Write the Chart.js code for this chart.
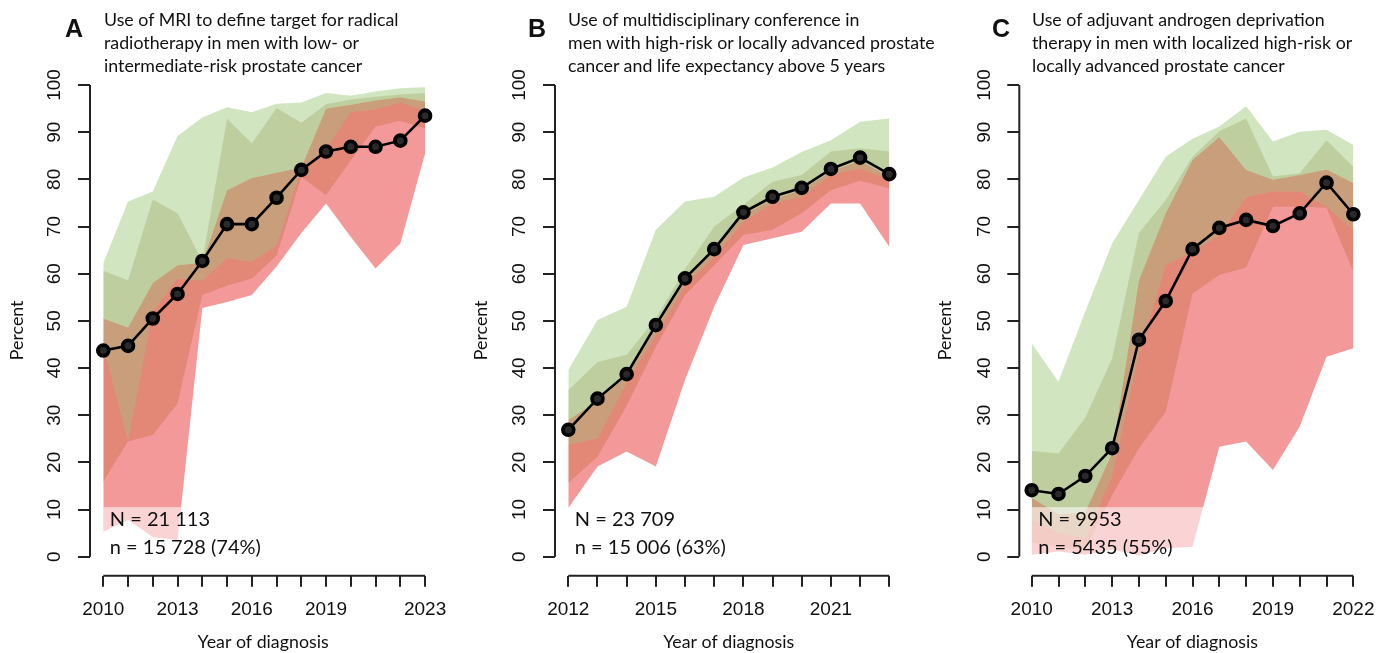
<!DOCTYPE html>
<html>
<head>
<meta charset="utf-8">
<script src="https://cdn.jsdelivr.net/npm/chart.js@4.4.1/dist/chart.umd.min.js"></script>
<style>
body { margin: 0; background: #fff; width: 1390px; height: 653px; overflow: hidden; position: relative; color: #111; }
canvas { position: absolute; top: 0; }
.ttl { position: absolute; top: 8px; font-family: Lato, sans-serif; font-size: 17.8px; line-height: 23px; white-space: nowrap; }
.let { position: absolute; top: 16px; font: bold 25px/24px 'Liberation Sans', Arial, sans-serif; }
</style>
</head>
<body>
<canvas id="cA" width="463" height="653" style="left:0px"></canvas>
<canvas id="cB" width="463" height="653" style="left:463px"></canvas>
<canvas id="cC" width="464" height="653" style="left:926px"></canvas>

<div class="let" style="left:65px">A</div>
<div class="ttl" style="left:104px">Use of MRI to define target for radical<br>radiotherapy in men with low- or<br>intermediate-risk prostate cancer</div>
<div class="let" style="left:528px">B</div>
<div class="ttl" style="left:568px">Use of multidisciplinary conference in<br>men with high-risk or locally advanced prostate<br>cancer and life expectancy above 5 years</div>
<div class="let" style="left:992px">C</div>
<div class="ttl" style="left:1032px">Use of adjuvant androgen deprivation<br>therapy in men with localized high-risk or<br>locally advanced prostate cancer</div>

<script>
var yTicks = [0, 10, 20, 30, 40, 50, 60, 70, 80, 90, 100];

// panel A
var yearsA = [2010, 2011, 2012, 2013, 2014, 2015, 2016, 2017, 2018, 2019, 2020, 2021, 2022, 2023];
var xLabelsA = [2010, 2013, 2016, 2019, 2023];
var lineA = [43.7, 44.7, 50.5, 55.7, 62.7, 70.5, 70.5, 76.1, 82.0, 85.9, 86.9, 86.9, 88.2, 93.5];
var greenTopA = [62.2, 75.3, 77.4, 89.2, 93.1, 95.3, 94.2, 96.0, 96.3, 98.3, 97.7, 98.6, 99.3, 99.5];
var greenInnerTopA = [60.6, 58.6, 75.7, 72.8, 62.7, 92.9, 87.6, 95.1, 92.0, 95.9, 96.9, 97.5, 98.0, 98.3];
var redTopA = [50.5, 48.6, 58.0, 61.8, 62.3, 77.7, 80.3, 81.4, 82.5, 95.0, 95.8, 96.7, 97.4, 96.5];
var redInnerTopA = [44.5, 24.7, 52.0, 59.0, 58.5, 63.3, 62.5, 66.0, 82.0, 86.5, 94.3, 94.8, 96.3, 94.6];
var redInnerBottomA = [15.9, 24.5, 25.8, 32.5, 55.5, 57.5, 59.0, 63.8, 80.5, 76.7, 84.0, 91.2, 92.4, 90.8];
var redBottomA = [5.3, 7.8, 4.2, 3.5, 52.7, 54.0, 55.5, 61.5, 68.6, 74.9, 67.8, 61.1, 66.4, 85.5];
var countsA = ['N = 21 113', 'n = 15 728 (74%)'];

// panel B
var yearsB = [2012, 2013, 2014, 2015, 2016, 2017, 2018, 2019, 2020, 2021, 2022, 2023];
var xLabelsB = [2012, 2015, 2018, 2021];
var lineB = [26.9, 33.5, 38.7, 49.1, 59.0, 65.2, 73.0, 76.3, 78.2, 82.2, 84.6, 81.1];
var greenTopB = [39.6, 50.2, 53.0, 69.3, 75.3, 76.3, 80.4, 82.5, 85.8, 88.3, 92.2, 92.9];
var greenInnerTopB = [35.3, 41.3, 42.8, 50.5, 61.0, 70.0, 74.6, 79.5, 80.9, 85.9, 86.6, 85.9];
var redTopB = [29.0, 33.0, 38.3, 48.5, 58.5, 64.8, 72.5, 75.8, 77.8, 81.7, 84.0, 80.6];
var redInnerTopB = [23.7, 25.1, 36.8, 47.0, 57.5, 63.6, 71.0, 74.9, 76.3, 80.9, 82.3, 80.0];
var redInnerBottomB = [15.6, 21.2, 32.0, 44.5, 55.5, 61.8, 68.2, 69.3, 72.8, 77.7, 79.7, 78.1];
var redBottomB = [10.3, 19.1, 22.3, 19.1, 37.5, 53.0, 66.1, 67.5, 68.9, 74.9, 74.9, 65.7];
var countsB = ['N = 23 709', 'n = 15 006 (63%)'];

// panel C
var yearsC = [2010, 2011, 2012, 2013, 2014, 2015, 2016, 2017, 2018, 2019, 2020, 2021, 2022];
var xLabelsC = [2010, 2013, 2016, 2019, 2022];
var lineC = [14.1, 13.3, 17.1, 23.0, 46.0, 54.2, 65.2, 69.7, 71.4, 70.1, 72.8, 79.3, 72.6];
var greenTopC = [45.2, 37.1, 52.0, 66.4, 75.6, 84.8, 88.6, 91.2, 95.5, 88.0, 90.1, 90.5, 87.3];
var greenInnerTopC = [22.4, 21.9, 29.5, 42.0, 68.6, 75.6, 84.8, 90.2, 92.9, 80.6, 81.3, 88.3, 82.6];
var redTopC = [12.5, 9.0, 9.5, 22.0, 58.6, 72.8, 84.1, 89.0, 82.0, 79.9, 80.9, 82.1, 79.2];
var redInnerTopC = [8.0, 5.0, 4.0, 17.0, 43.0, 61.8, 64.5, 68.2, 76.2, 77.4, 77.4, 74.2, 69.3];
var redInnerBottomC = [3.0, 2.0, 1.5, 13.0, 23.0, 30.7, 55.8, 59.7, 61.3, 74.2, 74.2, 74.0, 60.4];
var redBottomC = [0.4, 1.1, 0.4, 1.5, 0.3, 1.8, 2.1, 23.3, 24.4, 18.4, 27.6, 42.4, 44.2];
var countsC = ['N = 9953', 'n = 5435 (55%)'];

var greenCol = 'rgba(110,175,60,0.32)';
var greenInnerCol = 'rgba(154,162,93,0.33)';
var redCol = 'rgba(235,70,70,0.55)';
var redInnerCol = 'rgba(187,93,40,0.3)';

function pts(years, vals) {
    return years.map(function(yr, i) { return {x: yr, y: vals[i]}; });
}

function edge(years, vals, order, fill, color) {
    return {
        data: pts(years, vals),
        borderColor: 'rgba(0,0,0,0)',
        borderWidth: 0,
        pointRadius: 0,
        fill: fill,
        backgroundColor: color || 'rgba(0,0,0,0)',
        order: order
    };
}

function decor(years, counts) {
    return {
        id: 'decor',
        afterDatasetsDraw: function(chart) {
            var ctx = chart.ctx, xs = chart.scales.x, ys = chart.scales.y;
            var x0 = xs.getPixelForValue(years[0]);
            var x1 = xs.getPixelForValue(years[0] + 7);
            var yTop = ys.getPixelForValue(10.5), yBot = ys.getPixelForValue(0);
            ctx.save();
            ctx.fillStyle = 'rgba(255,255,255,0.58)';
            ctx.fillRect(x0, yTop, x1 - x0, yBot - yTop);
            ctx.fillStyle = '#111';
            ctx.font = '20px Lato';
            ctx.textAlign = 'left';
            ctx.textBaseline = 'middle';
            ctx.fillText(counts[0], x0 + 6.5, ys.getPixelForValue(7.8));
            ctx.fillText(counts[1], x0 + 6.5, ys.getPixelForValue(1.85));
            ctx.restore();
        },
        afterDraw: function(chart) {
            var ctx = chart.ctx, xs = chart.scales.x, ys = chart.scales.y;
            var left = chart.chartArea.left, bottom = chart.chartArea.bottom;
            ctx.save();
            ctx.strokeStyle = '#222';
            ctx.lineWidth = 2;
            ctx.beginPath();
            ctx.moveTo(left, ys.getPixelForValue(0));
            ctx.lineTo(left, ys.getPixelForValue(100));
            ctx.moveTo(xs.getPixelForValue(years[0]), bottom);
            ctx.lineTo(xs.getPixelForValue(years[years.length - 1]), bottom);
            ctx.stroke();
            ctx.fillStyle = '#111';
            ctx.font = '19px "Liberation Sans", Arial';
            ctx.textAlign = 'center';
            ctx.textBaseline = 'middle';
            yTicks.forEach(function(v) {
                ctx.save();
                ctx.translate(left - 35, ys.getPixelForValue(v));
                ctx.rotate(-Math.PI / 2);
                ctx.fillText(String(v), 0, 0);
                ctx.restore();
            });
            ctx.restore();
        }
    };
}

function makePanel(id, years, xLabels, line, gTop, gInTop, rTop, rInTop, rInBot, rBot, counts, axisLeft, xMin, xMax, padRight, titlePad) {
    var datasets = [
        {
            data: pts(years, line),
            borderColor: '#000',
            borderWidth: 2.6,
            pointRadius: 5.4,
            pointBorderWidth: 3.8,
            pointBorderColor: '#000',
            pointBackgroundColor: '#2a2a2a',
            fill: false,
            clip: false,
            order: 0
        },
        edge(years, gInTop, 1, 2, greenInnerCol),
        edge(years, rTop, 1, false),
        edge(years, gTop, 2, 4, greenCol),
        edge(years, rInTop, 2, false),
        edge(years, rInTop, 3, 6, redInnerCol),
        edge(years, rInBot, 3, false),
        edge(years, rTop, 4, 8, redCol),
        edge(years, rBot, 4, false)
    ];

    var ctx = document.getElementById(id).getContext('2d');
    var config = {
        type: 'line',
        data: { datasets: datasets },
        options: {
            responsive: false,
            animation: false,
            devicePixelRatio: 1,
            layout: { padding: { top: 85, right: padRight, left: 0, bottom: 0 } },
            elements: { line: { tension: 0 } },
            plugins: { legend: { display: false }, tooltip: { enabled: false } },
            scales: {
                x: {
                    type: 'linear',
                    min: xMin,
                    max: xMax,
                    afterBuildTicks: function(s) { s.ticks = years.map(function(v) { return {value: v}; }); },
                    afterFit: function(s) { s.height = 77.3; },
                    border: { display: false },
                    grid: { drawOnChartArea: false, drawTicks: true, tickLength: 11, color: '#222', lineWidth: 2 },
                    ticks: {
                        autoSkip: false,
                        maxRotation: 0,
                        padding: 12,
                        color: '#111',
                        font: { family: 'Liberation Sans', size: 19 },
                        callback: function(v) { return xLabels.indexOf(v) >= 0 ? String(v) : ''; }
                    },
                    title: {
                        display: true,
                        text: 'Year of diagnosis',
                        color: '#111',
                        font: { family: 'Lato', size: 17.8 },
                        padding: { top: 0, bottom: 0 }
                    }
                },
                y: {
                    type: 'linear',
                    min: -4.03,
                    max: 100,
                    afterBuildTicks: function(s) { s.ticks = yTicks.map(function(v) { return {value: v}; }); },
                    afterFit: function(s) { s.width = axisLeft; },
                    border: { display: false },
                    grid: { drawOnChartArea: false, drawTicks: true, tickLength: 12, color: '#222', lineWidth: 2 },
                    ticks: { display: false },
                    title: {
                        display: true,
                        text: 'Percent',
                        color: '#111',
                        font: { family: 'Lato', size: 17.8 },
                        padding: { top: titlePad, bottom: 0 }
                    }
                }
            }
        },
        plugins: [decor(years, counts)]
    };
    return new Chart(ctx, config);
}

makePanel('cA', yearsA, xLabelsA, lineA, greenTopA, greenInnerTopA, redTopA, redInnerTopA, redInnerBottomA, redBottomA, countsA, 90, 2009.463, 2023.45, 26.8, 6.5);
makePanel('cB', yearsB, xLabelsB, lineB, greenTopB, greenInnerTopB, redTopB, redInnerTopB, redInnerBottomB, redBottomB, countsB, 92, 2011.544, 2023.45, 23.6, 8);
makePanel('cC', yearsC, xLabelsC, lineC, greenTopC, greenInnerTopC, redTopC, redInnerTopC, redInnerBottomC, redBottomC, countsC, 93.3, 2009.537, 2022.45, 24.6, 8.5);
</script>
</body>
</html>
